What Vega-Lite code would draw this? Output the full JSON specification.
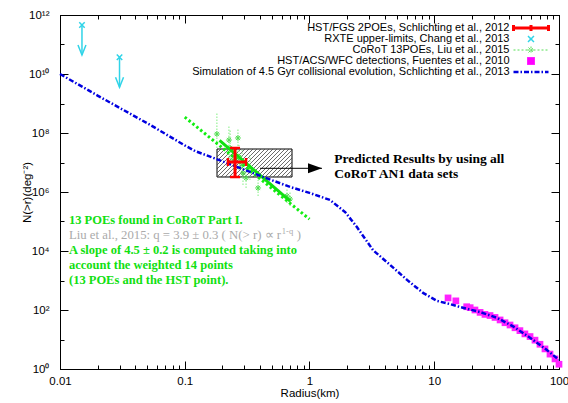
{
  "$schema": "https://vega.github.io/schema/vega-lite/v6.json",
  "width": 499,
  "height": 354,
  "autosize": {"type": "none"},
  "padding": {"left": 60, "top": 15, "right": 9, "bottom": 34},
  "background": "white",
  "config": {
    "view": {"stroke": "black", "strokeWidth": 1},
    "axis": {
      "grid": false,
      "domainColor": "black",
      "tickColor": "black",
      "labelFont": "Liberation Sans",
      "titleFont": "Liberation Sans",
      "labelFontSize": 11.5,
      "titleFontSize": 11.5,
      "titleFontWeight": "normal",
      "labelColor": "black",
      "titleColor": "black",
      "labelOverlap": false,
      "labelFlush": false
    }
  },
  "datasets": {
    "box": [{"r1": 0.1814, "r2": 0.724, "n1": 3225000, "n2": 28680000}],
    "hatch": [
      {"ra": 0.1814, "na": 2.099e7, "rb": 0.1953, "nb": 2.868e7},
      {"ra": 0.1814, "na": 1.536e7, "rb": 0.2102, "nb": 2.868e7},
      {"ra": 0.1814, "na": 1.124e7, "rb": 0.2263, "nb": 2.868e7},
      {"ra": 0.1814, "na": 8.228e6, "rb": 0.2437, "nb": 2.868e7},
      {"ra": 0.1814, "na": 6.021e6, "rb": 0.2623, "nb": 2.868e7},
      {"ra": 0.1814, "na": 4.406e6, "rb": 0.2824, "nb": 2.868e7},
      {"ra": 0.1814, "na": 3.225e6, "rb": 0.3041, "nb": 2.868e7},
      {"ra": 0.1953, "na": 3.225e6, "rb": 0.3273, "nb": 2.868e7},
      {"ra": 0.2102, "na": 3.225e6, "rb": 0.3525, "nb": 2.868e7},
      {"ra": 0.2263, "na": 3.225e6, "rb": 0.3795, "nb": 2.868e7},
      {"ra": 0.2437, "na": 3.225e6, "rb": 0.4086, "nb": 2.868e7},
      {"ra": 0.2623, "na": 3.225e6, "rb": 0.4399, "nb": 2.868e7},
      {"ra": 0.2824, "na": 3.225e6, "rb": 0.4736, "nb": 2.868e7},
      {"ra": 0.3041, "na": 3.225e6, "rb": 0.5099, "nb": 2.868e7},
      {"ra": 0.3273, "na": 3.225e6, "rb": 0.549, "nb": 2.868e7},
      {"ra": 0.3525, "na": 3.225e6, "rb": 0.591, "nb": 2.868e7},
      {"ra": 0.3795, "na": 3.225e6, "rb": 0.6363, "nb": 2.868e7},
      {"ra": 0.4086, "na": 3.225e6, "rb": 0.6851, "nb": 2.868e7},
      {"ra": 0.4399, "na": 3.225e6, "rb": 0.724, "nb": 2.653e7},
      {"ra": 0.4736, "na": 3.225e6, "rb": 0.724, "nb": 1.942e7},
      {"ra": 0.5099, "na": 3.225e6, "rb": 0.724, "nb": 1.421e7},
      {"ra": 0.549, "na": 3.225e6, "rb": 0.724, "nb": 1.04e7},
      {"ra": 0.591, "na": 3.225e6, "rb": 0.724, "nb": 7.61e6},
      {"ra": 0.6363, "na": 3.225e6, "rb": 0.724, "nb": 5.569e6},
      {"ra": 0.6851, "na": 3.225e6, "rb": 0.724, "nb": 4.076e6}
    ],
    "sim": [
      {"r": 0.01, "n": 1e10, "series": "Simulation of 4.5 Gyr collisional evolution, Schlichting et al., 2013"},
      {"r": 0.02, "n": 1.86e9, "series": "Simulation of 4.5 Gyr collisional evolution, Schlichting et al., 2013"},
      {"r": 0.0526, "n": 1.9e8, "series": "Simulation of 4.5 Gyr collisional evolution, Schlichting et al., 2013"},
      {"r": 0.1, "n": 3.8e7, "series": "Simulation of 4.5 Gyr collisional evolution, Schlichting et al., 2013"},
      {"r": 0.121, "n": 2.45e7, "series": "Simulation of 4.5 Gyr collisional evolution, Schlichting et al., 2013"},
      {"r": 0.2, "n": 1.1e7, "series": "Simulation of 4.5 Gyr collisional evolution, Schlichting et al., 2013"},
      {"r": 0.5, "n": 2.51e6, "series": "Simulation of 4.5 Gyr collisional evolution, Schlichting et al., 2013"},
      {"r": 0.7, "n": 1.48e6, "series": "Simulation of 4.5 Gyr collisional evolution, Schlichting et al., 2013"},
      {"r": 1.0, "n": 9.33e5, "series": "Simulation of 4.5 Gyr collisional evolution, Schlichting et al., 2013"},
      {"r": 1.46, "n": 5.37e5, "series": "Simulation of 4.5 Gyr collisional evolution, Schlichting et al., 2013"},
      {"r": 1.93, "n": 2.09e5, "series": "Simulation of 4.5 Gyr collisional evolution, Schlichting et al., 2013"},
      {"r": 2.4, "n": 6.46e4, "series": "Simulation of 4.5 Gyr collisional evolution, Schlichting et al., 2013"},
      {"r": 3.23, "n": 1.07e4, "series": "Simulation of 4.5 Gyr collisional evolution, Schlichting et al., 2013"},
      {"r": 4.42, "n": 3390, "series": "Simulation of 4.5 Gyr collisional evolution, Schlichting et al., 2013"},
      {"r": 6.05, "n": 1050, "series": "Simulation of 4.5 Gyr collisional evolution, Schlichting et al., 2013"},
      {"r": 8.13, "n": 380, "series": "Simulation of 4.5 Gyr collisional evolution, Schlichting et al., 2013"},
      {"r": 10.5, "n": 204, "series": "Simulation of 4.5 Gyr collisional evolution, Schlichting et al., 2013"},
      {"r": 13.4, "n": 158, "series": "Simulation of 4.5 Gyr collisional evolution, Schlichting et al., 2013"},
      {"r": 16.1, "n": 126, "series": "Simulation of 4.5 Gyr collisional evolution, Schlichting et al., 2013"},
      {"r": 23.3, "n": 85, "series": "Simulation of 4.5 Gyr collisional evolution, Schlichting et al., 2013"},
      {"r": 31.9, "n": 54, "series": "Simulation of 4.5 Gyr collisional evolution, Schlichting et al., 2013"},
      {"r": 42.8, "n": 28, "series": "Simulation of 4.5 Gyr collisional evolution, Schlichting et al., 2013"},
      {"r": 58.6, "n": 11.5, "series": "Simulation of 4.5 Gyr collisional evolution, Schlichting et al., 2013"},
      {"r": 80, "n": 4.4, "series": "Simulation of 4.5 Gyr collisional evolution, Schlichting et al., 2013"},
      {"r": 100, "n": 2.04, "series": "Simulation of 4.5 Gyr collisional evolution, Schlichting et al., 2013"}
    ],
    "fuentes": [
      {"r": 12.9, "n": 257}, {"r": 14.9, "n": 204}, {"r": 18.2, "n": 129}, {"r": 19.4, "n": 120},
      {"r": 21.2, "n": 100}, {"r": 23.3, "n": 83}, {"r": 25.5, "n": 71}, {"r": 28.0, "n": 65},
      {"r": 30.7, "n": 56}, {"r": 33.7, "n": 46}, {"r": 36.9, "n": 37}, {"r": 40.5, "n": 31},
      {"r": 44.4, "n": 25}, {"r": 48.6, "n": 20}, {"r": 53.3, "n": 15.5}, {"r": 58.6, "n": 12.6},
      {"r": 64.2, "n": 9.5}, {"r": 70.4, "n": 6.9}, {"r": 77.2, "n": 4.8}, {"r": 84.7, "n": 3.2},
      {"r": 92.9, "n": 2.2}, {"r": 100, "n": 1.45}
    ],
    "corot": [
      {"r": 0.181, "n": 9.25e7, "nlo": 3.1e7, "nhi": 4.76e8},
      {"r": 0.226, "n": 5.79e7, "nlo": 1.42e7, "nhi": 1.87e8},
      {"r": 0.231, "n": 3.1e7, "nlo": 8.22e6, "nhi": 1.26e8},
      {"r": 0.244, "n": 1.22e7, "nlo": 5.57e6, "nhi": 2.65e7},
      {"r": 0.267, "n": 6.78e7, "nlo": 2.27e7, "nhi": 1.48e8},
      {"r": 0.272, "n": 1.53e7, "nlo": 5.57e6, "nhi": 3.92e7},
      {"r": 0.288, "n": 8.22e6, "nlo": 2.99e6, "nhi": 2.65e7},
      {"r": 0.293, "n": 4.41e6, "nlo": 1.73e6, "nhi": 1.22e7},
      {"r": 0.31, "n": 2.99e6, "nlo": 1.37e6, "nhi": 6.52e6},
      {"r": 0.333, "n": 6.52e6, "nlo": 2.55e6, "nhi": 1.79e7},
      {"r": 0.387, "n": 1.37e6, "nlo": 7.31e5, "nhi": 2.55e6},
      {"r": 0.66, "n": 7.31e5, "nlo": 4.24e5, "nhi": 1.37e6},
      {"r": 0.698, "n": 5.79e5, "nlo": 3.35e5, "nhi": 1.0e6}
    ],
    "fit45": [{"r": 0.1, "n": 3.47e8}, {"r": 1.0, "n": 1.2e5}],
    "fitliu": [{"r": 0.19, "n": 5.6e7}, {"r": 0.7, "n": 4.9e5}],
    "hst": [{"r": 0.253, "n": 1.04e7, "rlo": 0.222, "rhi": 0.31, "nlo": 3.22e6, "nhi": 3.1e7}],
    "rxte": [{"r": 0.015, "n": 4.6e11, "nend": 4.4e10}, {"r": 0.03, "n": 3.68e10, "nend": 3.54e9}],
    "pointer": [{"r1": 0.401, "r2": 1.259, "n": 6.36e6}],
    "notesGreen": [
      {"r": 0.0118, "n": 8.22e4, "text": "13 POEs found in CoRoT Part I."},
      {"r": 0.0118, "n": 7730, "text": "A slope of 4.5 ± 0.2 is computed taking into"},
      {"r": 0.0118, "n": 2400, "text": "account the weighted 14 points"},
      {"r": 0.0118, "n": 760, "text": "(13 POEs and the HST point)."}
    ],
    "notesGray": [
      {"r": 0.0118, "n": 2.55e4, "text": "Liu et al., 2015: q = 3.9 ± 0.3 ( N(> r) ∝  r"},
      {"r": 0.79, "n": 2.55e4, "text": ")"}
    ],
    "notesGraySup": [{"r": 0.6, "n": 2.55e4, "text": "1-q"}],
    "notesBlack": [
      {"r": 1.58, "n": 9.84e6, "text": "Predicted Results by using all"},
      {"r": 1.58, "n": 2.91e6, "text": "CoRoT AN1 data sets"}
    ]
  },
  "layer": [
    {
      "data": {"name": "box"},
      "mark": {"type": "rect", "fill": "white", "stroke": "black", "strokeWidth": 1},
      "encoding": {
        "x": {"field": "r1", "type": "quantitative", "scale": {"type": "log", "domain": [0.01, 100], "nice": false},
          "axis": {"orient": "bottom", "title": "Radius(km)", "titlePadding": -3,
            "values": [0.01,0.02,0.03,0.04,0.05,0.06,0.07,0.08,0.09,0.1,0.2,0.3,0.4,0.5,0.6,0.7,0.8,0.9,1,2,3,4,5,6,7,8,9,10,20,30,40,50,60,70,80,90,100],
            "labelExpr": "indexof([0.01,0.1,1,10,100], datum.value) >= 0 ? toString(datum.value) : ''",
            "tickSize": {"condition": {"test": "indexof([0.01,0.1,1,10,100], datum.value) >= 0", "value": -8}, "value": -4},
            "labelPadding": 14}},
        "x2": {"field": "r2"},
        "y": {"field": "n1", "type": "quantitative", "scale": {"type": "log", "domain": [1, 1e12], "nice": false},
          "axis": {"orient": "left", "title": "N(>r)(deg⁻²)", "titlePadding": -4,
            "values": [1,10,100,1000,10000,100000,1000000,10000000,100000000,1000000000,10000000000,100000000000,1000000000000],
            "labelExpr": "['10⁰','','10²','','10⁴','','10⁶','','10⁸','','10¹⁰','','10¹²'][round(log(datum.value)/LN10)]",
            "tickSize": {"condition": {"test": "round(log(datum.value)/LN10) % 2 == 0", "value": -8}, "value": -4},
            "labelPadding": 19}},
        "y2": {"field": "n2"}
      }
    },
    {
      "data": {"name": "hatch"},
      "mark": {"type": "rule", "color": "#444444", "strokeWidth": 0.8},
      "encoding": {
        "x": {"field": "ra", "type": "quantitative", "scale": {"type": "log", "domain": [0.01, 100], "nice": false}, "axis": null},
        "y": {"field": "na", "type": "quantitative", "scale": {"type": "log", "domain": [1, 1e12], "nice": false}, "axis": null},
        "x2": {"field": "rb"},
        "y2": {"field": "nb"}
      }
    },
    {
      "data": {"name": "corot"},
      "mark": {"type": "rule", "color": "#80ee80", "strokeWidth": 1, "strokeDash": [1.5, 1.5]},
      "encoding": {
        "x": {"field": "r", "type": "quantitative", "scale": {"type": "log", "domain": [0.01, 100], "nice": false}, "axis": null},
        "y": {"field": "nlo", "type": "quantitative", "scale": {"type": "log", "domain": [1, 1e12], "nice": false}, "axis": null},
        "y2": {"field": "nhi"}
      }
    },
    {
      "data": {"name": "corot"},
      "mark": {"type": "point", "shape": "M-1,0H1M0,-1V1M-0.7,-0.7L0.7,0.7M-0.7,0.7L0.7,-0.7", "filled": false, "stroke": "#55dd55", "strokeWidth": 1, "size": 36, "opacity": 1},
      "encoding": {
        "x": {"field": "r", "type": "quantitative", "scale": {"type": "log", "domain": [0.01, 100], "nice": false}, "axis": null},
        "y": {"field": "n", "type": "quantitative", "scale": {"type": "log", "domain": [1, 1e12], "nice": false}, "axis": null}
      }
    },
    {
      "data": {"name": "fit45"},
      "mark": {"type": "line", "color": "#11ee11", "strokeWidth": 3, "strokeDash": [2.5, 2.5]},
      "encoding": {
        "x": {"field": "r", "type": "quantitative", "scale": {"type": "log", "domain": [0.01, 100], "nice": false}, "axis": null},
        "y": {"field": "n", "type": "quantitative", "scale": {"type": "log", "domain": [1, 1e12], "nice": false}, "axis": null}
      }
    },
    {
      "data": {"name": "fitliu"},
      "mark": {"type": "line", "color": "#11e011", "strokeWidth": 3},
      "encoding": {
        "x": {"field": "r", "type": "quantitative", "scale": {"type": "log", "domain": [0.01, 100], "nice": false}, "axis": null},
        "y": {"field": "n", "type": "quantitative", "scale": {"type": "log", "domain": [1, 1e12], "nice": false}, "axis": null}
      }
    },
    {
      "data": {"name": "fuentes"},
      "mark": {"type": "point", "shape": "square", "filled": true, "color": "#ff22ff", "size": 45, "opacity": 1},
      "encoding": {
        "x": {"field": "r", "type": "quantitative", "scale": {"type": "log", "domain": [0.01, 100], "nice": false}, "axis": null},
        "y": {"field": "n", "type": "quantitative", "scale": {"type": "log", "domain": [1, 1e12], "nice": false}, "axis": null}
      }
    },
    {
      "data": {"name": "sim"},
      "mark": {"type": "line", "strokeWidth": 2.5, "strokeDash": [5, 2, 1.5, 2]},
      "encoding": {
        "x": {"field": "r", "type": "quantitative", "scale": {"type": "log", "domain": [0.01, 100], "nice": false},
          "axis": {"orient": "top", "title": null, "labels": false,
            "values": [0.01,0.02,0.03,0.04,0.05,0.06,0.07,0.08,0.09,0.1,0.2,0.3,0.4,0.5,0.6,0.7,0.8,0.9,1,2,3,4,5,6,7,8,9,10,20,30,40,50,60,70,80,90,100],
            "tickSize": {"condition": {"test": "indexof([0.01,0.1,1,10,100], datum.value) >= 0", "value": -8}, "value": -4}}},
        "y": {"field": "n", "type": "quantitative", "scale": {"type": "log", "domain": [1, 1e12], "nice": false},
          "axis": {"orient": "right", "title": null, "labels": false,
            "values": [1,10,100,1000,10000,100000,1000000,10000000,100000000,1000000000,10000000000,100000000000,1000000000000],
            "tickSize": {"condition": {"test": "round(log(datum.value)/LN10) % 2 == 0", "value": -8}, "value": -4}}},
        "color": {"field": "series", "type": "nominal",
          "scale": {"domain": [
            "HST/FGS 2POEs, Schlichting et al., 2012",
            "RXTE upper-limits, Chang et al., 2013",
            "CoRoT 13POEs, Liu et al., 2015",
            "HST/ACS/WFC detections, Fuentes et al., 2010",
            "Simulation of 4.5 Gyr collisional evolution, Schlichting et al., 2013"],
            "range": ["#ff0000", "#30d4e8", "#55dd55", "#ff00ff", "#0000e0"]},
          "legend": {
            "title": null, "orient": "none", "legendX": 471, "legendY": 7, "padding": 0,
            "labelAlign": "right", "labelLimit": 600,
            "labelFont": "Liberation Sans", "labelFontSize": 11, "labelColor": "black",
            "rowPadding": -0.5, "symbolSize": 100,
            "encode": {
              "symbols": {
                "update": {
                  "x": {"value": 0},
                  "y": {"value": 6},
                  "shape": {"signal": "['M-3.5,0H3.5M-3.5,-0.6V0.6M3.5,-0.6V0.6M0,-0.6V0.6','M-0.6,-0.6L0.6,0.6M-0.6,0.6L0.6,-0.6','M-3.5,0H3.5M-0.7,0H0.7M0,-0.7V0.7M-0.5,-0.5L0.5,0.5M-0.5,0.5L0.5,-0.5','M-0.7,-0.7H0.7V0.7H-0.7Z','M-3.5,0H3.5'][indexof(domain('color'), datum.value)]"},
                  "strokeDash": {"signal": "[[1,0],[1,0],[2,2],[1,0],[5,2,1.5,2]][indexof(domain('color'), datum.value)]"},
                  "strokeWidth": {"signal": "[3,1.5,1,1,2.5][indexof(domain('color'), datum.value)]"},
                  "strokeJoin": {"value": "round"},
                  "fill": {"signal": "indexof(domain('color'), datum.value) == 3 ? '#ff00ff' : 'transparent'"},
                  "stroke": {"signal": "scale('color', datum.value)"},
                  "size": {"value": 100},
                  "opacity": {"value": 1}
                }
              },
              "labels": {
                "update": {
                  "x": {"value": -21.5},
                  "y": {"value": 6}
                }
              }
            }
          }
        }
      }
    },
    {
      "data": {"name": "hst"},
      "mark": {"type": "rule", "color": "#ff0000", "strokeWidth": 3},
      "encoding": {
        "x": {"field": "r", "type": "quantitative", "scale": {"type": "log", "domain": [0.01, 100], "nice": false}, "axis": null},
        "y": {"field": "nlo", "type": "quantitative", "scale": {"type": "log", "domain": [1, 1e12], "nice": false}, "axis": null},
        "y2": {"field": "nhi"}
      }
    },
    {
      "data": {"name": "hst"},
      "mark": {"type": "rule", "color": "#ff0000", "strokeWidth": 3},
      "encoding": {
        "x": {"field": "rlo", "type": "quantitative", "scale": {"type": "log", "domain": [0.01, 100], "nice": false}, "axis": null},
        "x2": {"field": "rhi"},
        "y": {"field": "n", "type": "quantitative", "scale": {"type": "log", "domain": [1, 1e12], "nice": false}, "axis": null}
      }
    },
    {
      "data": {"name": "hst"},
      "mark": {"type": "point", "shape": "M-1,0H1", "filled": false, "stroke": "#ff0000", "strokeWidth": 2.5, "size": 100, "opacity": 1},
      "encoding": {
        "x": {"field": "r", "type": "quantitative", "scale": {"type": "log", "domain": [0.01, 100], "nice": false}, "axis": null},
        "y": {"field": "nhi", "type": "quantitative", "scale": {"type": "log", "domain": [1, 1e12], "nice": false}, "axis": null}
      }
    },
    {
      "data": {"name": "hst"},
      "mark": {"type": "point", "shape": "M-1,0H1", "filled": false, "stroke": "#ff0000", "strokeWidth": 2.5, "size": 100, "opacity": 1},
      "encoding": {
        "x": {"field": "r", "type": "quantitative", "scale": {"type": "log", "domain": [0.01, 100], "nice": false}, "axis": null},
        "y": {"field": "nlo", "type": "quantitative", "scale": {"type": "log", "domain": [1, 1e12], "nice": false}, "axis": null}
      }
    },
    {
      "data": {"name": "hst"},
      "mark": {"type": "point", "shape": "M0,-1V1", "filled": false, "stroke": "#ff0000", "strokeWidth": 2.5, "size": 64, "opacity": 1},
      "encoding": {
        "x": {"field": "rlo", "type": "quantitative", "scale": {"type": "log", "domain": [0.01, 100], "nice": false}, "axis": null},
        "y": {"field": "n", "type": "quantitative", "scale": {"type": "log", "domain": [1, 1e12], "nice": false}, "axis": null}
      }
    },
    {
      "data": {"name": "hst"},
      "mark": {"type": "point", "shape": "M0,-1V1", "filled": false, "stroke": "#ff0000", "strokeWidth": 2.5, "size": 64, "opacity": 1},
      "encoding": {
        "x": {"field": "rhi", "type": "quantitative", "scale": {"type": "log", "domain": [0.01, 100], "nice": false}, "axis": null},
        "y": {"field": "n", "type": "quantitative", "scale": {"type": "log", "domain": [1, 1e12], "nice": false}, "axis": null}
      }
    },
    {
      "data": {"name": "rxte"},
      "mark": {"type": "rule", "color": "#30d4e8", "strokeWidth": 1.5},
      "encoding": {
        "x": {"field": "r", "type": "quantitative", "scale": {"type": "log", "domain": [0.01, 100], "nice": false}, "axis": null},
        "y": {"field": "n", "type": "quantitative", "scale": {"type": "log", "domain": [1, 1e12], "nice": false}, "axis": null},
        "y2": {"field": "nend"}
      }
    },
    {
      "data": {"name": "rxte"},
      "mark": {"type": "point", "shape": "M-1,-1L1,1M-1,1L1,-1", "filled": false, "stroke": "#30d4e8", "strokeWidth": 1.5, "size": 30, "opacity": 1},
      "encoding": {
        "x": {"field": "r", "type": "quantitative", "scale": {"type": "log", "domain": [0.01, 100], "nice": false}, "axis": null},
        "y": {"field": "n", "type": "quantitative", "scale": {"type": "log", "domain": [1, 1e12], "nice": false}, "axis": null}
      }
    },
    {
      "data": {"name": "rxte"},
      "mark": {"type": "point", "shape": "M-2,-5L0,0L2,-5", "filled": false, "stroke": "#30d4e8", "strokeWidth": 1.5, "size": 16, "opacity": 1},
      "encoding": {
        "x": {"field": "r", "type": "quantitative", "scale": {"type": "log", "domain": [0.01, 100], "nice": false}, "axis": null},
        "y": {"field": "nend", "type": "quantitative", "scale": {"type": "log", "domain": [1, 1e12], "nice": false}, "axis": null}
      }
    },
    {
      "data": {"name": "pointer"},
      "mark": {"type": "rule", "color": "black", "strokeWidth": 1},
      "encoding": {
        "x": {"field": "r1", "type": "quantitative", "scale": {"type": "log", "domain": [0.01, 100], "nice": false}, "axis": null},
        "x2": {"field": "r2"},
        "y": {"field": "n", "type": "quantitative", "scale": {"type": "log", "domain": [1, 1e12], "nice": false}, "axis": null}
      }
    },
    {
      "data": {"name": "pointer"},
      "mark": {"type": "point", "shape": "M0,0L-5.6,-2L-5.6,2Z", "filled": true, "color": "black", "size": 25, "opacity": 1},
      "encoding": {
        "x": {"field": "r2", "type": "quantitative", "scale": {"type": "log", "domain": [0.01, 100], "nice": false}, "axis": null},
        "y": {"field": "n", "type": "quantitative", "scale": {"type": "log", "domain": [1, 1e12], "nice": false}, "axis": null}
      }
    },
    {
      "data": {"name": "notesGreen"},
      "mark": {"type": "text", "align": "left", "baseline": "alphabetic", "font": "Liberation Serif", "fontWeight": "bold", "fontSize": 12.5, "color": "#11e011"},
      "encoding": {
        "x": {"field": "r", "type": "quantitative", "scale": {"type": "log", "domain": [0.01, 100], "nice": false}, "axis": null},
        "y": {"field": "n", "type": "quantitative", "scale": {"type": "log", "domain": [1, 1e12], "nice": false}, "axis": null},
        "text": {"field": "text"}
      }
    },
    {
      "data": {"name": "notesGray"},
      "mark": {"type": "text", "align": "left", "baseline": "alphabetic", "font": "Liberation Serif", "fontSize": 12.75, "color": "#aaaaaa"},
      "encoding": {
        "x": {"field": "r", "type": "quantitative", "scale": {"type": "log", "domain": [0.01, 100], "nice": false}, "axis": null},
        "y": {"field": "n", "type": "quantitative", "scale": {"type": "log", "domain": [1, 1e12], "nice": false}, "axis": null},
        "text": {"field": "text"}
      }
    },
    {
      "data": {"name": "notesGraySup"},
      "mark": {"type": "text", "align": "left", "baseline": "alphabetic", "font": "Liberation Serif", "fontSize": 8.5, "dy": -5, "color": "#aaaaaa"},
      "encoding": {
        "x": {"field": "r", "type": "quantitative", "scale": {"type": "log", "domain": [0.01, 100], "nice": false}, "axis": null},
        "y": {"field": "n", "type": "quantitative", "scale": {"type": "log", "domain": [1, 1e12], "nice": false}, "axis": null},
        "text": {"field": "text"}
      }
    },
    {
      "data": {"name": "notesBlack"},
      "mark": {"type": "text", "align": "left", "baseline": "alphabetic", "font": "Liberation Serif", "fontWeight": "bold", "fontSize": 13.5, "color": "black"},
      "encoding": {
        "x": {"field": "r", "type": "quantitative", "scale": {"type": "log", "domain": [0.01, 100], "nice": false}, "axis": null},
        "y": {"field": "n", "type": "quantitative", "scale": {"type": "log", "domain": [1, 1e12], "nice": false}, "axis": null},
        "text": {"field": "text"}
      }
    }
  ],
  "resolve": {"axis": {"x": "independent", "y": "independent"}}
}
